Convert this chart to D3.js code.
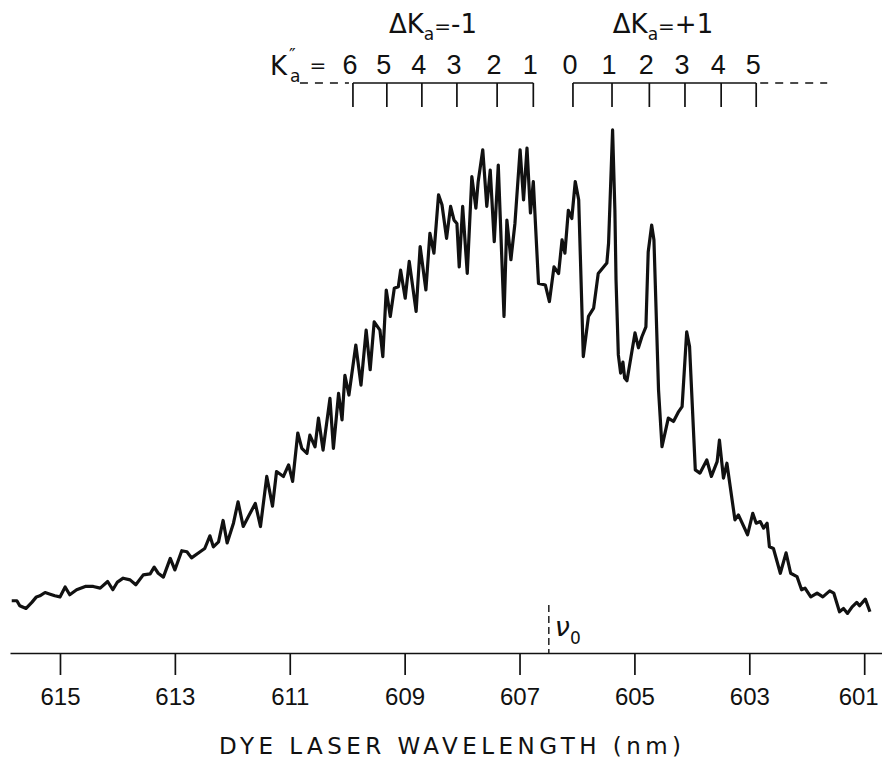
<!DOCTYPE html>
<meta charset="utf-8">
<html>
  <head>
    <script src="https://d3js.org/d3.v7.min.js"></script>
    <style>
      body { margin: 0; background: #fff; }
      text { font-family: "DejaVu Sans", sans-serif; fill: #111; }
    </style>
  </head>
  <body>
    <div id="chart"></div>

    <script type="text/javascript">
      // spectrum (nm, arbitrary intensity)
      var wavelength = [615.84, 615.75, 615.70, 615.59, 615.49, 615.41, 615.35, 615.26, 615.17, 615.09,
        615.00, 614.91, 614.83, 614.71, 614.56, 614.42, 614.30, 614.17, 614.08, 614.00,
        613.90, 613.78, 613.68, 613.55, 613.43, 613.36, 613.29, 613.20, 613.08, 613.00,
        612.88, 612.79, 612.71, 612.56, 612.48, 612.39, 612.33, 612.24, 612.16, 612.09,
        611.98, 611.90, 611.81, 611.72, 611.60, 611.51, 611.40, 611.30, 611.23, 611.11,
        611.02, 610.95, 610.86, 610.79, 610.70, 610.65, 610.56, 610.50, 610.42, 610.30,
        610.24, 610.15, 610.09, 610.04, 609.97, 609.85, 609.76, 609.67, 609.60, 609.53,
        609.43, 609.38, 609.32, 609.25, 609.18, 609.11, 609.07, 608.99, 608.92, 608.80,
        608.73, 608.63, 608.56, 608.49, 608.41, 608.35, 608.27, 608.20, 608.14, 608.09,
        608.05, 607.99, 607.91, 607.83, 607.76, 607.72, 607.64, 607.57, 607.51, 607.44,
        607.37, 607.27, 607.22, 607.15, 607.08, 606.99, 606.93, 606.87, 606.81, 606.76,
        606.67, 606.55, 606.48, 606.40, 606.32, 606.26, 606.21, 606.15, 606.09, 606.03,
        605.97, 605.89, 605.80, 605.71, 605.63, 605.48, 605.45, 605.38, 605.34, 605.32,
        605.28, 605.24, 605.20, 605.17, 605.13, 605.06, 604.99, 604.93, 604.87, 604.80,
        604.76, 604.70, 604.66, 604.58, 604.52, 604.41, 604.32, 604.23, 604.17, 604.09,
        604.04, 603.94, 603.86, 603.74, 603.66, 603.56, 603.52, 603.45, 603.39, 603.25,
        603.19, 603.03, 602.94, 602.88, 602.81, 602.75, 602.69, 602.65, 602.58, 602.46,
        602.36, 602.28, 602.17, 602.09, 602.03, 601.93, 601.82, 601.72, 601.60, 601.53,
        601.43, 601.36, 601.29, 601.21, 601.13, 601.08, 600.98, 600.90];
      var intensity = [9.5, 9.5, 8.6, 8.1, 9.2, 10.2, 10.4, 11.0, 10.7, 10.4,
        10.2, 12.0, 10.6, 11.5, 12.1, 12.1, 11.8, 13.0, 11.5, 12.9,
        13.6, 13.3, 12.4, 14.2, 14.4, 15.6, 14.5, 13.8, 17.2, 15.1,
        18.6, 18.4, 17.3, 18.4, 19.0, 21.3, 19.3, 20.2, 24.1, 20.0,
        23.6, 27.5, 23.0, 24.8, 27.2, 23.0, 32.1, 26.7, 33.0, 32.1,
        34.2, 31.2, 40.0, 37.2, 36.3, 39.6, 37.5, 42.7, 36.9, 46.3,
        37.2, 47.2, 42.4, 50.5, 46.9, 56.0, 48.7, 58.7, 51.5, 60.2,
        58.7, 53.9, 66.0, 61.2, 66.3, 66.6, 69.6, 64.5, 71.2, 62.1,
        73.9, 66.0, 76.3, 72.7, 83.3, 81.5, 75.4, 81.2, 78.7, 78.1,
        70.2, 81.2, 69.0, 86.6, 80.9, 85.7, 91.5, 81.2, 87.8, 74.8,
        88.7, 61.2, 78.7, 71.5, 78.1, 91.5, 82.4, 91.8, 80.0, 85.7,
        67.2, 66.9, 63.9, 70.2, 69.0, 75.1, 72.7, 80.5, 79.0, 85.7,
        82.4, 53.9, 61.2, 62.7, 69.0, 70.9, 74.5, 95.1, 80.5, 67.8,
        54.2, 50.9, 52.9, 50.0, 49.5, 53.8, 58.2, 55.5, 57.5, 59.3,
        72.9, 77.8, 75.1, 47.8, 37.5, 42.7, 42.1, 43.9, 44.8, 58.4,
        55.7, 33.3, 32.7, 35.1, 32.1, 34.8, 38.7, 31.8, 34.5, 24.2,
        25.1, 21.5, 25.4, 23.6, 23.9, 22.7, 23.6, 19.3, 19.0, 14.5,
        18.2, 14.5, 13.9, 11.5, 11.8, 10.2, 10.9, 10.2, 11.3, 10.9,
        7.5, 8.1, 7.2, 8.4, 9.2, 8.6, 9.8, 7.5];

      var tickValues = [615, 613, 611, 609, 607, 605, 603, 601];
      var kMinusLabels = ["6", "5", "4", "3", "2", "1"];
      var kMinusPos = [609.90, 609.31, 608.70, 608.09, 607.39, 606.76];
      var kPlusLabels = ["0", "1", "2", "3", "4", "5"];
      var kPlusPos = [606.07, 605.39, 604.74, 604.12, 603.49, 602.88];
      var nu0 = 606.49;

      var data = wavelength.map(function (w, i) { return { w: w, v: intensity[i] }; });

      var width = 882, height = 761;

      var svg = d3.select("#chart").append("svg")
          .attr("width", width)
          .attr("height", height);

      var x = d3.scaleLinear().domain([615.87, 600.69]).range([10, 882]);
      var y = d3.scaleLinear().domain([0, 100]).range([653, 103]);

      // bottom axis
      var axis = svg.append("g")
          .attr("transform", "translate(0,653)")
          .call(d3.axisBottom(x).tickValues(tickValues).tickSize(22).tickSizeOuter(0).tickFormat(d3.format("d")));
      axis.select(".domain").attr("stroke", "#111").attr("stroke-width", 1.7);
      axis.selectAll(".tick line").attr("stroke", "#111").attr("stroke-width", 1.7);
      axis.selectAll(".tick text")
          .attr("y", 52).attr("dy", 0)
          .attr("dx", function (d) { return d === 601 ? -6 : 0; })
          .style("font-size", "24px")
          .style("font-family", "Liberation Sans, sans-serif")
          .attr("fill", "#111");

      svg.append("text")
          .attr("x", 450).attr("y", 754)
          .attr("text-anchor", "middle")
          .attr("textLength", 462).attr("lengthAdjust", "spacing")
          .style("font-size", "23px")
          .text("DYE LASER WAVELENGTH (nm)");

      // nu0 marker
      svg.append("line")
          .attr("x1", x(nu0)).attr("x2", x(nu0))
          .attr("y1", 605).attr("y2", 653)
          .attr("stroke", "#111").attr("stroke-width", 1.4)
          .attr("stroke-dasharray", "7,4");
      var nu = svg.append("text").attr("x", x(nu0) + 6).attr("y", 636).style("font-size", "27px");
      nu.append("tspan").style("font-style", "italic").text("ν");
      nu.append("tspan").attr("dy", 8).style("font-size", "17px").text("0");

      // spectrum
      var line = d3.line().x(function (d) { return x(d.w); }).y(function (d) { return y(d.v); });
      svg.append("path")
          .datum(data)
          .attr("d", line)
          .attr("fill", "none")
          .attr("stroke", "#111")
          .attr("stroke-width", 3.2)
          .attr("stroke-linejoin", "round");

      // K assignment combs
      function comb(pos, labels, dashLeft, dashRight) {
        var g = svg.append("g");
        var x0 = x(pos[0]), x1 = x(pos[pos.length - 1]);
        g.append("line").attr("x1", x0).attr("x2", x1).attr("y1", 83).attr("y2", 83)
            .attr("stroke", "#111").attr("stroke-width", 1.7);
        if (dashLeft) {
          g.append("line").attr("x1", x0 - dashLeft).attr("x2", x0 - 4).attr("y1", 83).attr("y2", 83)
              .attr("stroke", "#111").attr("stroke-width", 1.4).attr("stroke-dasharray", "8,7");
        }
        if (dashRight) {
          g.append("line").attr("x1", x1 + 4).attr("x2", x1 + dashRight).attr("y1", 83).attr("y2", 83)
              .attr("stroke", "#111").attr("stroke-width", 1.4).attr("stroke-dasharray", "8,7");
        }
        g.selectAll(".kt").data(pos).enter().append("line")
            .attr("x1", function (d) { return x(d); }).attr("x2", function (d) { return x(d); })
            .attr("y1", 83).attr("y2", 107)
            .attr("stroke", "#111").attr("stroke-width", 1.7);
        g.selectAll(".kl").data(pos).enter().append("text")
            .attr("x", function (d) { return x(d) - 3; })
            .attr("y", 74)
            .attr("text-anchor", "middle")
            .style("font-size", "27px")
            .style("font-family", "Liberation Sans, sans-serif")
            .text(function (d, i) { return labels[i]; });
      }
      comb(kMinusPos, kMinusLabels, 53, 0);
      comb(kPlusPos, kPlusLabels, 0, 71);

      // K_a'' =
      svg.append("text").attr("x", 270).attr("y", 75).style("font-size", "26px").text("K");
      svg.append("text").attr("x", 290).attr("y", 82).style("font-size", "17px").text("a");
      svg.append("text").attr("x", 289).attr("y", 61).style("font-size", "18px").text("″");
      svg.append("text").attr("x", 318).attr("y", 72).attr("text-anchor", "middle").style("font-size", "20px").text("=");

      function deltaLabel(cx, sign) {
        var t = svg.append("text").attr("x", cx).attr("y", 33).attr("text-anchor", "middle").style("font-size", "26px");
        t.append("tspan").text("ΔK");
        t.append("tspan").attr("dy", 7).style("font-size", "17px").text("a");
        t.append("tspan").attr("dy", -7).style("font-size", "20px").text("=");
        t.append("tspan").text(sign + "1");
      }
      deltaLabel(433, "-");
      deltaLabel(663, "+");
    </script>
  </body>
</html>
